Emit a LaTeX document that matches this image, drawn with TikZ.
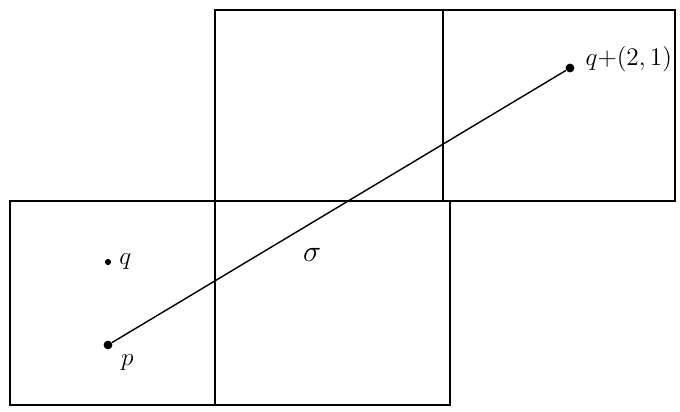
\documentclass[tikz,border=0pt]{standalone}
\usepackage{amsmath,amssymb}
\usepackage{tikz}
\usetikzlibrary{positioning,calc}
\tikzset{
  cellbox/.style={draw=black,thick},
  dotpt/.style={circle,fill=black,inner sep=0pt,minimum size=5pt},
  smalldot/.style={circle,fill=black,inner sep=0pt,minimum size=3.5pt},
  lbl/.style={font=\Large}
}
\newcommand{\twocells}[4]{%
  \draw[cellbox] (#1,#3) rectangle (#2,#4);
}

\begin{document}
\begin{tikzpicture}[scale=1]
  \useasboundingbox (0,0) rectangle (13.6,8.22);
  % bottom row
  \twocells{0.2}{9.0}{0.12}{4.2}
  \draw[cellbox] (4.3,0.12) -- (4.3,4.2);
  % top row
  \twocells{4.3}{13.5}{4.2}{8.02}
  \draw[cellbox] (8.86,4.2) -- (8.86,8.02);
  % points
  \node[dotpt] (p) at (2.16,1.32) {};
  \node[smalldot] (q) at (2.16,2.98) {};
  \node[dotpt] (qs) at (11.4,6.86) {};
  \node[lbl,below right=0pt and 2pt of p] (plab) {$p$};
  \node[lbl,right=1pt of q] (qlab) {$q$};
  \node[lbl,inner sep=0pt,right=6pt of qs,yshift=5pt] (qslab) {$q{+}(2,1)$};
  \node[font=\LARGE] (sigma) at (6.24,3.12) {$\sigma$};
  % segment
  \draw[thick] (p) -- (qs);
\end{tikzpicture}
\end{document}
